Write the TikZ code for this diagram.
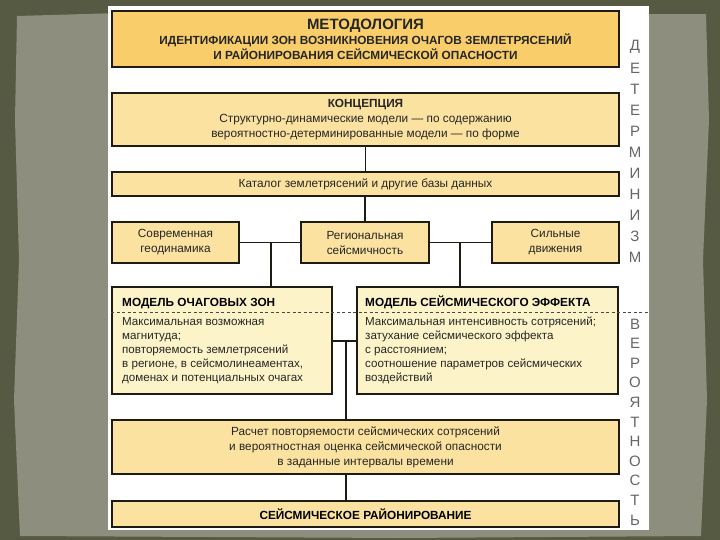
\documentclass[tikz,border=0pt]{standalone}
\usepackage{fontspec}
\setmainfont{Liberation Sans}
\usetikzlibrary{calc}
\definecolor{bgdark}{HTML}{575A42}
\definecolor{paper}{HTML}{8D8E7D}
\definecolor{gold}{HTML}{F9CE6A}
\definecolor{lightgold}{HTML}{FBE2A0}
\definecolor{pale}{HTML}{FCF4C8}
\definecolor{edge}{HTML}{1E1A14}
\definecolor{lettergray}{HTML}{666666}
\tikzset{
  box/.style={draw=edge, line width=1.3pt, inner sep=0pt, align=center, text=black!85, font=\fontsize{11.8}{15}\selectfont},
  conn/.style={draw=edge, line width=1.3pt},
  bodytxt/.style={anchor=north west, inner sep=0pt, align=left, text=black!85, font=\fontsize{11.6}{14}\selectfont},
  headtxt/.style={anchor=base west, inner sep=0pt, font=\bfseries\fontsize{11.8}{13}\selectfont},
  vletter/.style={inner sep=0pt, text=lettergray, font=\fontsize{15}{15}\selectfont}
}
\begin{document}
\begin{tikzpicture}[x=1pt,y=-1pt]
\useasboundingbox (0,0) rectangle (720,540);
% background
\fill[bgdark] (0,0) rectangle (720,540);
\fill[paper] (17,16) -- (120,13) -- (400,15) -- (706,14) -- (709,120) -- (703,260) -- (707,400) -- (701,536) -- (400,538) -- (20,536) -- (14,400) -- (19,260) -- (15,120) -- cycle;
\fill[white] (108,6) rectangle (649,530);

% boxes
\node[box, fill=gold, minimum width=507pt, minimum height=56pt] (title) at (365.5,39)
  {{\bfseries\fontsize{15}{16}\selectfont МЕТОДОЛОГИЯ}\\[0pt]
   {\bfseries\fontsize{11.8}{13}\selectfont ИДЕНТИФИКАЦИИ ЗОН ВОЗНИКНОВЕНИЯ ОЧАГОВ ЗЕМЛЕТРЯСЕНИЙ}\\
   {\bfseries\fontsize{11.8}{13}\selectfont И РАЙОНИРОВАНИЯ СЕЙСМИЧЕСКОЙ ОПАСНОСТИ}};
\node[box, fill=lightgold, minimum width=507pt, minimum height=53pt] (concept) at (365.5,119.5)
  {{\bfseries КОНЦЕПЦИЯ}\\
   Структурно-динамические модели — по содержанию\\
   вероятностно-детерминированные модели — по форме};
\node[box, fill=lightgold, minimum width=507pt, minimum height=24pt] (catalog) at (365.5,184)
  {Каталог землетрясений и другие базы данных};
\node[box, fill=lightgold, minimum width=127pt, minimum height=41pt] (geo) at (175.5,242.5)
  {Современная\\геодинамика};
\node[box, fill=lightgold, minimum width=128pt, minimum height=41pt] (reg) at (365,242.5)
  {Региональная\\сейсмичность};
\node[box, fill=lightgold, minimum width=127pt, minimum height=41pt] (strong) at (555.5,242.5)
  {Сильные\\движения};
\node[box, fill=pale, minimum width=220pt, minimum height=107pt] (mlz) at (222,340.5) {};
\node[box, fill=pale, minimum width=261pt, minimum height=107pt] (mse) at (487.5,340.5) {};
\node[box, fill=lightgold, minimum width=507pt, minimum height=54pt] (calc) at (365.5,447)
  {Расчет повторяемости сейсмических сотрясений\\
   и вероятностная оценка сейсмической опасности\\
   в заданные интервалы времени};
\node[box, fill=lightgold, minimum width=507pt, minimum height=26pt, text=black, font=\bfseries\fontsize{11.8}{13}\selectfont] (final) at (365.5,514)
  {СЕЙСМИЧЕСКОЕ РАЙОНИРОВАНИЕ};

% model texts
\node[headtxt] (mlzh) at (122,306.5) {МОДЕЛЬ ОЧАГОВЫХ ЗОН};
\node[bodytxt] (mlzb) at (122,317) {Максимальная возможная\\магнитуда;\\повторяемость землетрясений\\в регионе, в сейсмолинеаментах,\\доменах и потенциальных очагах};
\node[headtxt] (mseh) at (365,306.5) {МОДЕЛЬ СЕЙСМИЧЕСКОГО ЭФФЕКТА};
\node[bodytxt] (mseb) at (365,317) {Максимальная интенсивность сотрясений;\\затухание сейсмического эффекта\\с расстоянием;\\соотношение параметров сейсмических\\воздействий};

% dashed separator
\coordinate (dl) at (111,312);
\coordinate (dr) at (649,312);
\draw[draw=edge!80, line width=0.8pt, dash pattern=on 3pt off 2.5pt] (dl) -- (dr);

% connectors
\draw[conn] (concept.south) -- (catalog.north);
\draw[conn] (catalog.south -| reg.north) -- (reg.north);
\draw[conn] (geo.east) -- (reg.west);
\draw[conn] (reg.east) -- (strong.west);
\coordinate (j1) at (271,242.5);
\coordinate (j2) at (460,242.5);
\draw[conn] (j1) -- (j1 |- mlz.north);
\draw[conn] (j2) -- (j2 |- mse.north);
\coordinate (m) at (346,341);
\draw[conn] (mlz.east |- m) -- (mse.west |- m);
\draw[conn] (m) -- (m |- calc.north);
\draw[conn] (calc.south -| m) -- (final.north -| m);

% vertical words
\foreach \ch [count=\i from 0] in {Д,Е,Т,Е,Р,М,И,Н,И,З,М}
  \node[vletter] (d\i) at (635,47+21*\i) {\ch};
\foreach \ch [count=\i from 0] in {В,Е,Р,О,Я,Т,Н,О,С,Т,Ь}
  \node[vletter] (v\i) at (635,324+19.6*\i) {\ch};
\end{tikzpicture}
\end{document}
